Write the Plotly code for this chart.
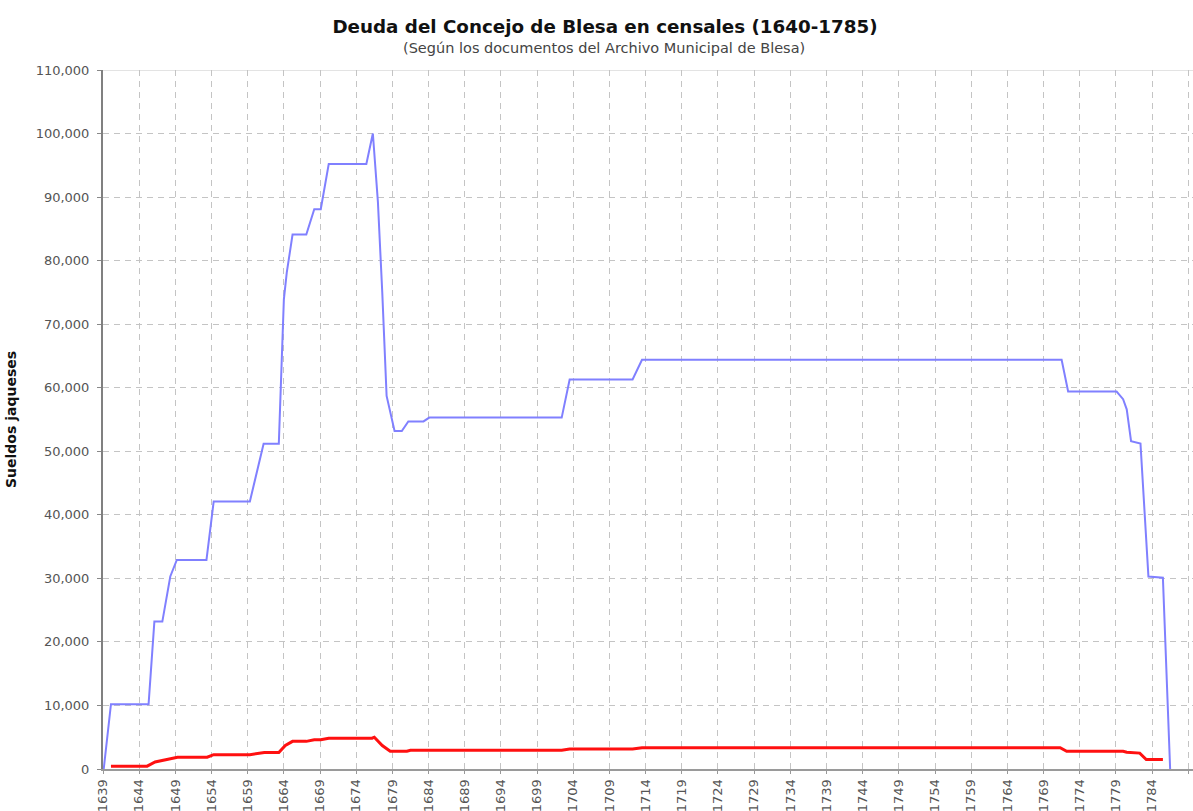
import plotly.graph_objects as go

# ---- data ----
blue_years = [1639.1, 1640.1, 1645.3, 1646.1, 1647.2, 1648.3, 1649.2, 1653.3, 1654.3, 1659.3,
              1661.2, 1663.3, 1664.0, 1664.4, 1665.2, 1667.1, 1668.2, 1669.1, 1670.2, 1675.4,
              1676.3, 1677.0, 1677.6, 1678.2, 1679.3, 1680.3, 1681.2, 1683.3, 1684.1, 1702.4,
              1703.5, 1712.2, 1713.5, 1771.5, 1772.4, 1779.1, 1780.0, 1780.5, 1781.1, 1782.4,
              1783.5, 1785.5, 1786.5]
blue_values = [0, 10200, 10200, 23200, 23200, 30300, 32900, 32900, 42100, 42100,
               51200, 51200, 73900, 78100, 84100, 84100, 88100, 88100, 95200, 95200,
               100000, 89200, 75000, 58700, 53200, 53200, 54700, 54700, 55300, 55300,
               61300, 61300, 64400, 64400, 59400, 59400, 58200, 56600, 51600, 51200,
               30300, 30100, 0]

red_years = [1640.1, 1645.1, 1646.2, 1647.1, 1648.3, 1649.3, 1653.4, 1654.3, 1659.3, 1661.3,
             1663.3, 1664.2, 1665.2, 1667.1, 1668.2, 1669.1, 1670.2, 1676.2, 1676.5, 1677.6,
             1678.7, 1681.0, 1681.5, 1702.4, 1703.5, 1712.2, 1713.5, 1771.3, 1772.2, 1780.0,
             1780.5, 1782.3, 1783.2, 1785.5]
red_values = [450, 450, 1100, 1300, 1600, 1850, 1850, 2250, 2250, 2600,
              2600, 3700, 4350, 4350, 4600, 4600, 4850, 4850, 5000, 3700,
              2800, 2800, 2950, 2950, 3150, 3150, 3350, 3350, 2800, 2800,
              2650, 2500, 1500, 1500]

x_tick_years = list(range(1639, 1790, 5))
x_tick_labels = [str(y) for y in x_tick_years]
y_tick_values = list(range(0, 110001, 10000))
y_tick_labels = [f"{v:,}" for v in y_tick_values]

title_text = "Deuda del Concejo de Blesa en censales (1640-1785)"
subtitle_text = "(Según los documentos del Archivo Municipal de Blesa)"
y_title = "Sueldos jaqueses"

FONT = "DejaVu Sans, Verdana, sans-serif"

W, H = 1193, 811
L, R, T, B = 103, 0, 70, 42
PW, PH = W - L - R, H - T - B

fig = go.Figure()
fig.add_trace(go.Scatter(x=blue_years, y=blue_values, mode="lines",
                         line=dict(color="#8080ff", width=2), showlegend=False))
fig.add_trace(go.Scatter(x=red_years, y=red_values, mode="lines",
                         line=dict(color="#ff1010", width=3), showlegend=False))

fig.update_layout(
    width=W, height=H,
    margin=dict(l=L, r=R, t=T, b=B),
    paper_bgcolor="white", plot_bgcolor="white",
    font=dict(family=FONT, color="#555"),
    title=dict(text="<b>" + title_text + "</b>", x=605 / W, xanchor="center",
               y=1 - 27 / H, yanchor="middle", yref="container",
               font=dict(size=18.3, color="#111", family=FONT)),
    showlegend=False,
)
fig.add_annotation(text=subtitle_text, xref="paper", yref="paper",
                   x=(604 - L) / PW, y=1 + (T - 48) / PH,
                   xanchor="center", yanchor="middle", showarrow=False,
                   font=dict(size=14.5, color="#444", family=FONT))

GRID = "#c4c4c4"
fig.update_xaxes(range=[1639, 1789.66], tickmode="array", tickvals=x_tick_years,
                 ticktext=x_tick_labels, tickangle=-90,
                 tickfont=dict(size=13, color="#555"),
                 showgrid=True, gridcolor=GRID, gridwidth=1, griddash="6px,5px",
                 showline=True, linecolor="#9a9a9a", linewidth=2,
                 ticks="outside", ticklen=3, tickcolor="#999",
                 zeroline=False)
fig.update_yaxes(range=[0, 110000], tickmode="array", tickvals=y_tick_values,
                 ticktext=y_tick_labels, tickfont=dict(size=13, color="#555"),
                 ticklabelstandoff=5,
                 showgrid=True, gridcolor=GRID, gridwidth=1, griddash="6px,5px",
                 showline=True, linecolor="#808080", linewidth=2,
                 ticks="outside", ticklen=4, tickcolor="#888",
                 zeroline=False,
                 title=dict(text="<b>" + y_title + "</b>", standoff=16,
                            font=dict(size=14, color="#111")))

# solid top border line at the maximum of the y range
fig.add_shape(type="line", xref="paper", yref="y", x0=0, x1=1,
              y0=y_tick_values[-1], y1=y_tick_values[-1],
              line=dict(color="#c8c8c8", width=1), layer="below")

# remove the default 8px page margin so the figure fills the window exactly
fig.write_html("out.html",
               config={"displayModeBar": False},
               post_script="document.body.style.margin='0';"
                           "document.body.style.overflow='hidden';")
